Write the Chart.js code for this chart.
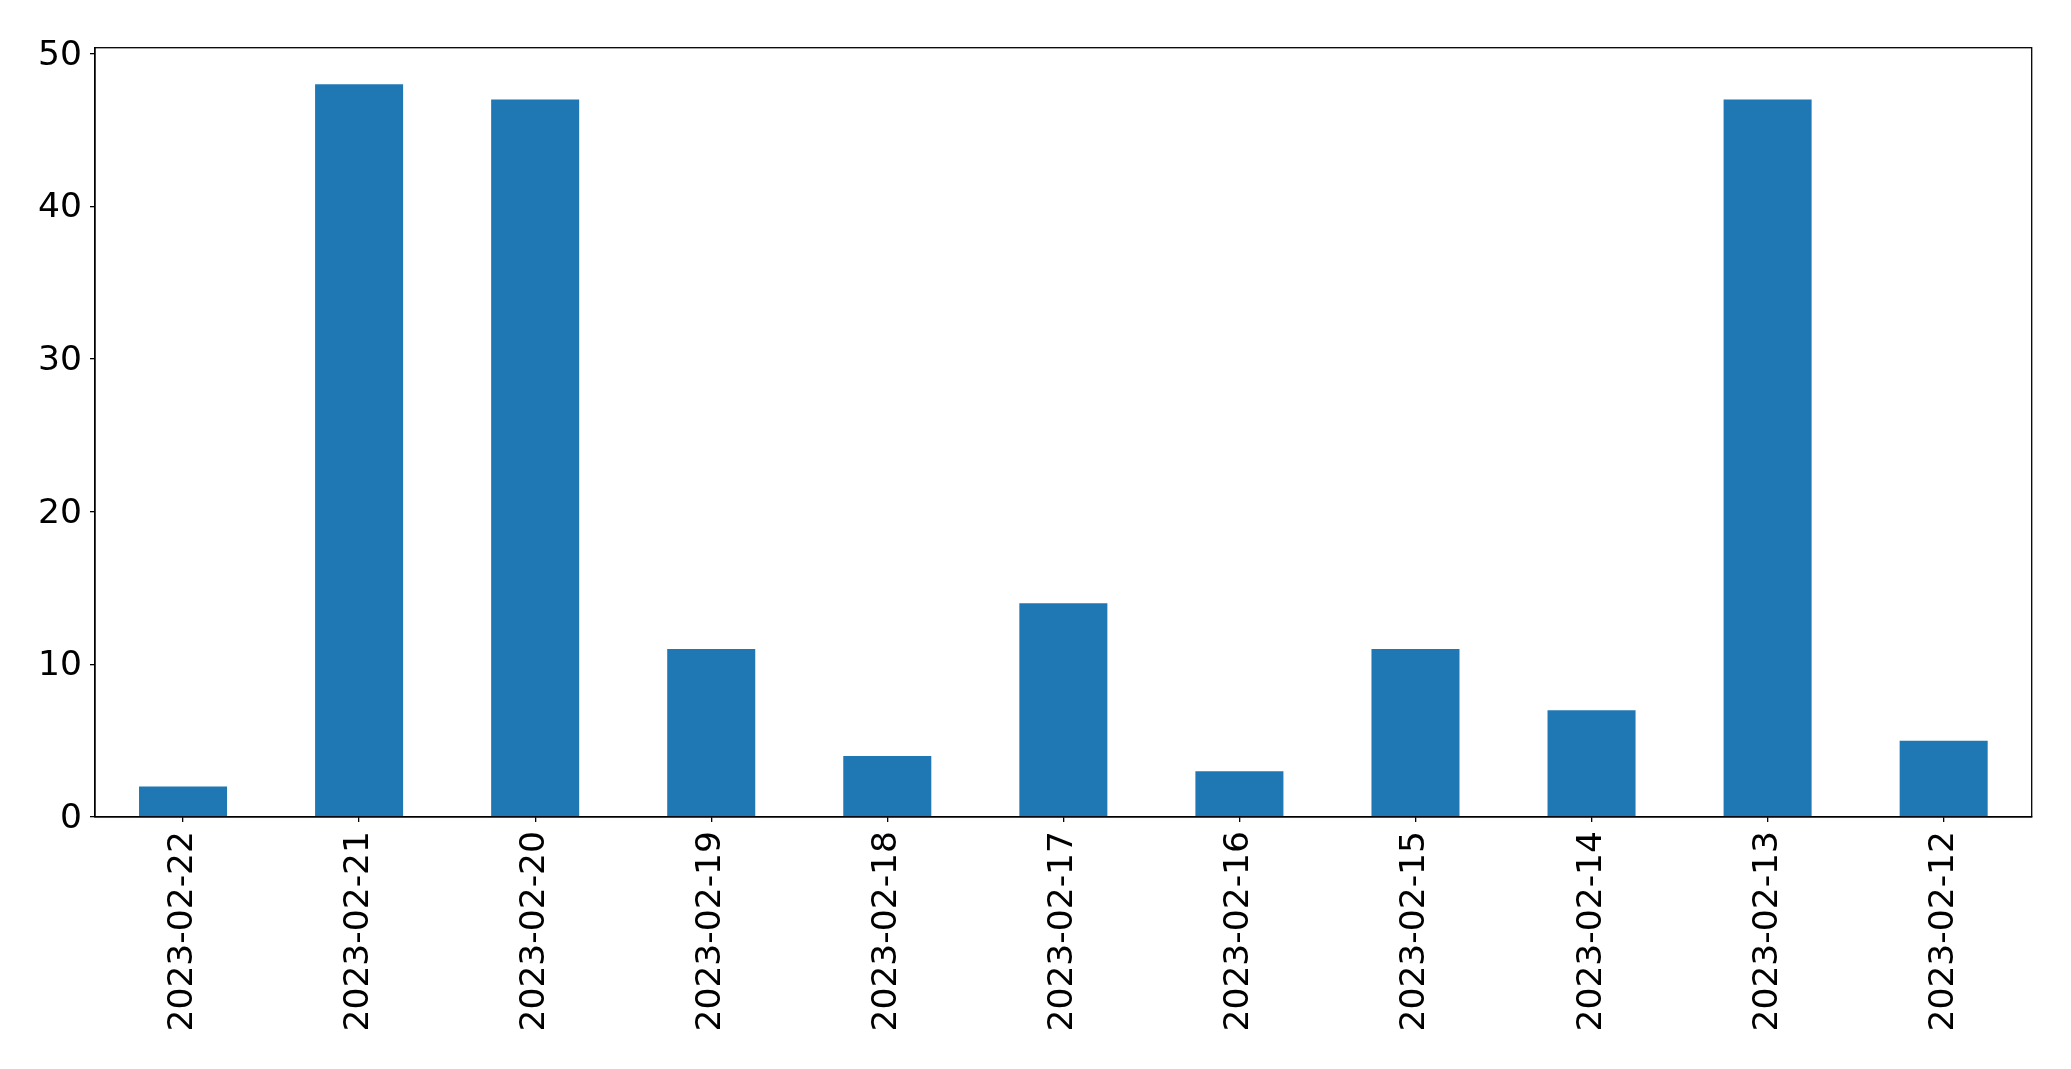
<!DOCTYPE html>
<html>
<head>
<meta charset="utf-8">
<script src="https://cdn.jsdelivr.net/npm/chart.js@4/dist/chart.umd.min.js"></script>
<style>
  html, body { margin: 0; padding: 0; background: #ffffff; }
  #c { display: block; }
</style>
</head>
<body>
<canvas id="c" width="2071" height="1069"></canvas>
<script>
const categories = ["2023-02-22", "2023-02-21", "2023-02-20", "2023-02-19", "2023-02-18", "2023-02-17", "2023-02-16", "2023-02-15", "2023-02-14", "2023-02-13", "2023-02-12"];
const counts = [2, 48, 47, 11, 4, 14, 3, 11, 7, 47, 5];
const yTicks = [0, 10, 20, 30, 40, 50];
const yMax = 50.4;

const FONT = { family: "'DejaVu Sans', sans-serif", size: 34.5 };

const framePlugin = {
  id: 'frame',
  afterDraw(chart) {
    const a = chart.chartArea;
    const ctx = chart.ctx;
    ctx.save();
    ctx.strokeStyle = '#000000';
    ctx.lineWidth = 1.3;
    ctx.strokeRect(a.left, a.top, a.right - a.left, a.bottom - a.top);
    ctx.restore();
  }
};

new Chart(document.getElementById('c'), {
  type: 'bar',
  data: {
    labels: categories,
    datasets: [{
      data: counts,
      backgroundColor: '#1f77b4',
      borderWidth: 0,
      categoryPercentage: 1.0,
      barPercentage: 0.5
    }]
  },
  options: {
    responsive: false,
    animation: false,
    devicePixelRatio: 1,
    layout: { padding: { left: 0, right: 39.3, top: 47.7, bottom: 0 } },
    plugins: { legend: { display: false }, tooltip: { enabled: false } },
    scales: {
      x: {
        offset: true,
        grid: { display: true, drawOnChartArea: false, drawTicks: true, tickLength: 5, offset: false, color: '#000000', lineWidth: 1.3 },
        border: { display: true, color: '#000000', width: 1.3 },
        ticks: { color: '#000000', font: FONT, maxRotation: 90, minRotation: 90, padding: 9, autoSkip: false },
        afterFit(scale) { scale.height = 1069 - 817; }
      },
      y: {
        min: 0,
        max: yMax,
        grid: { display: true, drawOnChartArea: false, drawTicks: true, tickLength: 5, color: '#000000', lineWidth: 1.3 },
        border: { display: true, color: '#000000', width: 1.3 },
        ticks: { color: '#000000', font: FONT, padding: 8, labelOffset: 2 },
        afterBuildTicks(scale) { scale.ticks = yTicks.map(v => ({ value: v })); },
        afterFit(scale) { scale.width = 95; }
      }
    }
  },
  plugins: [framePlugin]
});
</script>
</body>
</html>
